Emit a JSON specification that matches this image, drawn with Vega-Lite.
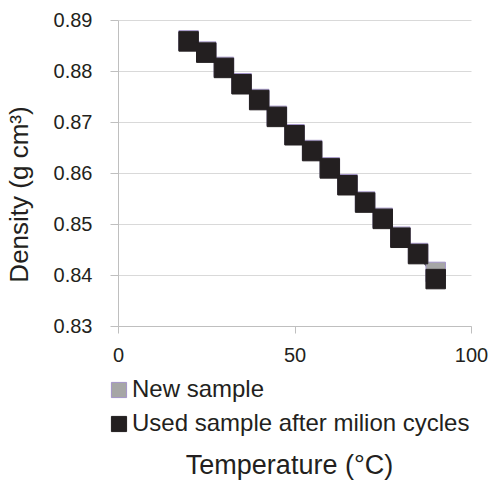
{
  "$schema": "https://vega.github.io/schema/vega-lite/v6.json",
  "width": 353,
  "height": 306,
  "autosize": "none",
  "padding": {"left": 118, "top": 20, "right": 21, "bottom": 160},
  "background": "white",
  "config": {
    "font": "Liberation Sans",
    "view": {"stroke": null},
    "axis": {"labelColor": "#231f20", "titleColor": "#231f20", "titleFontWeight": "normal", "gridColor": "#d9d9d9", "domainColor": "#bfbfbf", "tickColor": "#bfbfbf"}
  },
  "data": {
    "values": [
      {"t": 20, "d": 0.8860, "s": "New sample"},
      {"t": 25, "d": 0.8838, "s": "New sample"},
      {"t": 30, "d": 0.8808, "s": "New sample"},
      {"t": 35, "d": 0.8776, "s": "New sample"},
      {"t": 40, "d": 0.8745, "s": "New sample"},
      {"t": 45, "d": 0.8712, "s": "New sample"},
      {"t": 50, "d": 0.8676, "s": "New sample"},
      {"t": 55, "d": 0.8645, "s": "New sample"},
      {"t": 60, "d": 0.8611, "s": "New sample"},
      {"t": 65, "d": 0.8578, "s": "New sample"},
      {"t": 70, "d": 0.8544, "s": "New sample"},
      {"t": 75, "d": 0.8512, "s": "New sample"},
      {"t": 80, "d": 0.8475, "s": "New sample"},
      {"t": 85, "d": 0.8443, "s": "New sample"},
      {"t": 90, "d": 0.8406, "s": "New sample"},
      {"t": 20, "d": 0.8858, "s": "Used sample after milion cycles"},
      {"t": 25, "d": 0.8836, "s": "Used sample after milion cycles"},
      {"t": 30, "d": 0.8806, "s": "Used sample after milion cycles"},
      {"t": 35, "d": 0.8774, "s": "Used sample after milion cycles"},
      {"t": 40, "d": 0.8743, "s": "Used sample after milion cycles"},
      {"t": 45, "d": 0.8710, "s": "Used sample after milion cycles"},
      {"t": 50, "d": 0.8674, "s": "Used sample after milion cycles"},
      {"t": 55, "d": 0.8643, "s": "Used sample after milion cycles"},
      {"t": 60, "d": 0.8609, "s": "Used sample after milion cycles"},
      {"t": 65, "d": 0.8576, "s": "Used sample after milion cycles"},
      {"t": 70, "d": 0.8542, "s": "Used sample after milion cycles"},
      {"t": 75, "d": 0.8510, "s": "Used sample after milion cycles"},
      {"t": 80, "d": 0.8473, "s": "Used sample after milion cycles"},
      {"t": 85, "d": 0.8441, "s": "Used sample after milion cycles"},
      {"t": 90, "d": 0.8392, "s": "Used sample after milion cycles"}
    ]
  },
  "encoding": {
    "x": {
      "field": "t", "type": "quantitative",
      "scale": {"domain": [0, 100], "nice": false},
      "axis": {
        "title": "Temperature (°C)", "values": [0, 50, 100], "grid": false, "labelFlush": false,
        "labelFontSize": 20, "labelPadding": 12, "tickSize": 7,
        "titleFontSize": 27, "titleX": 171, "titleY": 139, "titleBaseline": "middle", "titleAnchor": null, "titleAlign": "center"
      }
    },
    "y": {
      "field": "d", "type": "quantitative",
      "scale": {"domain": [0.83, 0.89], "nice": false, "zero": false},
      "axis": {
        "title": "Density (g cm³)", "values": [0.83, 0.84, 0.85, 0.86, 0.87, 0.88, 0.89], "format": ".2f", "labelFlush": false,
        "labelFontSize": 20, "labelPadding": 18, "tickSize": 8,
        "titleFontSize": 26, "titleX": -99, "titleY": 174, "titleBaseline": "middle", "titleAlign": "center", "titleAngle": -90
      }
    }
  },
  "layer": [
    {
      "transform": [{"filter": "datum.s == 'New sample'"}],
      "mark": {"type": "line", "strokeWidth": 1.5, "color": "#a6a6a6"},
      "encoding": {}
    },
    {
      "transform": [{"filter": "datum.s != 'New sample'"}],
      "mark": {"type": "line", "strokeWidth": 1.5, "color": "#231f20"},
      "encoding": {}
    },
    {
      "mark": {"type": "point", "shape": "square", "filled": true, "size": 380, "opacity": 1, "strokeWidth": 1},
      "encoding": {
        "fill": {
          "field": "s", "type": "nominal",
          "scale": {"domain": ["New sample", "Used sample after milion cycles"], "range": ["#a6a6a6", "#231f20"]},
          "legend": {
            "title": null, "orient": "none", "legendX": -11, "legendY": 358,
            "labelFontSize": 24, "labelColor": "#231f20", "labelLimit": 0, "symbolSize": 230, "symbolType": "square",
            "rowPadding": 10, "labelOffset": 1, "symbolStrokeWidth": 1
          }
        },
        "stroke": {
          "field": "s", "type": "nominal",
          "scale": {"domain": ["New sample", "Used sample after milion cycles"], "range": ["#a394c8", "#231f20"]},
          "legend": {
            "title": null, "orient": "none", "legendX": -11, "legendY": 358,
            "labelFontSize": 24, "labelColor": "#231f20", "labelLimit": 0, "symbolSize": 230, "symbolType": "square",
            "rowPadding": 10, "labelOffset": 1, "symbolStrokeWidth": 1
          }
        }
      }
    }
  ]
}
